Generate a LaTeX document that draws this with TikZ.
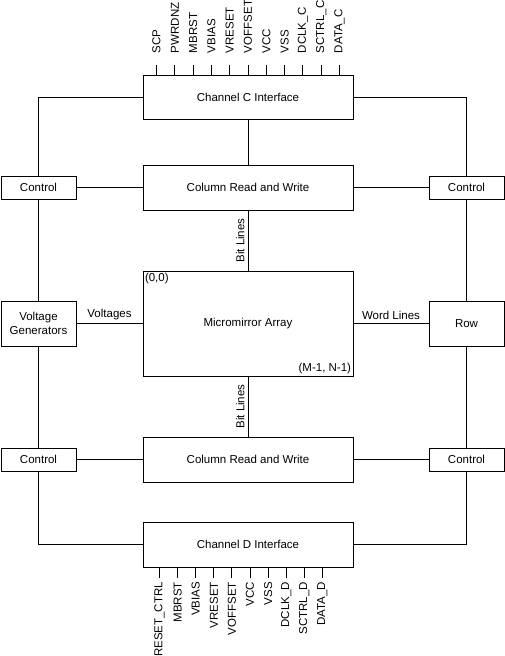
\documentclass[tikz,border=0pt]{standalone}
\usepackage{fontspec}
\setmainfont{Liberation Sans}
\usetikzlibrary{
    positioning,
    calc
}

\begin{document}
\begin{tikzpicture}[
    x=1pt, y=-1pt,
    line width=1pt,
    every node/.style={font=\fontsize{11.5}{13.5}\selectfont},
    bloco/.style={
        draw,
        line width=1pt,
        minimum width=210pt,
        minimum height=45pt,
        inner sep=0pt,
        align=center
    },
    lateral/.style={
        draw,
        line width=1pt,
        minimum width=75pt,
        minimum height=23pt,
        inner sep=0pt,
        align=center
    },
    pino/.style={
        rotate=90,
        inner sep=0pt
    },
    rotulo/.style={
        rotate=90,
        inner sep=3pt
    }
]
\useasboundingbox (0,0) rectangle (504,656);

\node[bloco, minimum height=44pt] (chanC) at (248,97) {Channel C Interface};
\node[bloco, below=45pt of chanC] (colTop) {Column Read and Write};
\node[bloco, minimum height=105pt, below=60pt of colTop] (mirror) {Micromirror Array};
\node[bloco, below=60pt of mirror] (colBot) {Column Read and Write};
\node[bloco, below=39pt of colBot] (chanD) {Channel D Interface};

\node[lateral, left=66pt of colTop] (ctrlTL) {Control};
\node[lateral, right=75pt of colTop] (ctrlTR) {Control};
\node[lateral, minimum height=45pt, left=66pt of mirror] (vgen) {Voltage\\Generators};
\node[lateral, minimum height=45pt, right=75pt of mirror] (row) {Row};
\node[lateral, left=66pt of colBot] (ctrlBL) {Control};
\node[lateral, right=75pt of colBot] (ctrlBR) {Control};

\node[anchor=north west, inner sep=2pt] (origin) at (mirror.north west) {(0,0)};
\node[anchor=south east, inner sep=2pt] (last) at (mirror.south east) {(M-1, N-1)};

% left and right trunks
\draw (chanC.west) -| (ctrlTL.north);
\draw (ctrlTL.south) -- (vgen.north);
\draw (vgen.south) -- (ctrlBL.north);
\draw (ctrlBL.south) |- (chanD.west);
\draw (chanC.east) -| (ctrlTR.north);
\draw (ctrlTR.south) -- (row.north);
\draw (row.south) -- (ctrlBR.north);
\draw (ctrlBR.south) |- (chanD.east);

\draw (ctrlTL) -- (colTop);
\draw (colTop) -- (ctrlTR);
\draw (ctrlBL) -- (colBot);
\draw (colBot) -- (ctrlBR);

\draw (chanC) -- (colTop);
\draw (colTop) -- node[rotulo, anchor=south] {Bit Lines} (mirror);
\draw (mirror) -- node[rotulo, anchor=south] {Bit Lines} (colBot);
\draw (vgen) -- node[above] {Voltages} (mirror);
\draw (mirror) -- node[above] {Word Lines} (row);

% channel pins
\foreach \lab [count=\i from 0] in {SCP,PWRDNZ,MBRST,VBIAS,VRESET,VOFFSET,VCC,VSS,DCLK\_C,SCTRL\_C,DATA\_C} {
    \coordinate (pc\i) at ($(chanC.north west)+(14+18.3*\i,0)$);
    \draw (pc\i) -- ++(0,-10);
    \node[pino, anchor=west] (lc\i) at ($(pc\i)+(0,-21)$) {\lab};
}
\foreach \lab [count=\i from 0] in {RESET\_CTRL,MBRST,VBIAS,VRESET,VOFFSET,VCC,VSS,DCLK\_D,SCTRL\_D,DATA\_D} {
    \coordinate (pd\i) at ($(chanD.south west)+(17+18.1*\i,0)$);
    \draw (pd\i) -- ++(0,10);
    \node[pino, anchor=east] (ld\i) at ($(pd\i)+(0,14)$) {\lab};
}

\end{tikzpicture}
\end{document}
